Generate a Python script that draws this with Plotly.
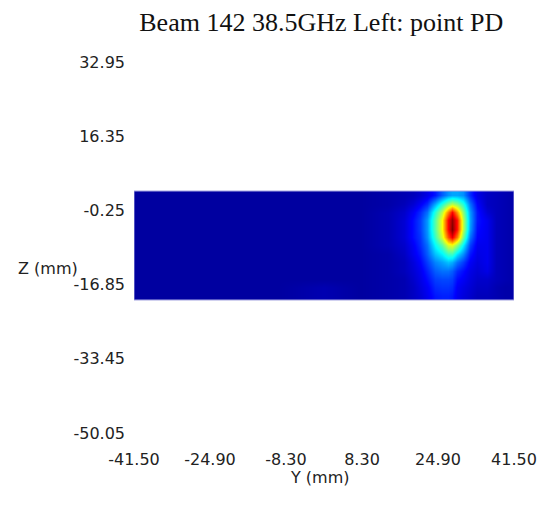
import plotly.graph_objects as go

# ---- data ----
y_cols = [-41.5, -30, -20, -10, 0, 8, 14, 17.5, 19.5, 21, 22.5, 24.2, 25.8, 27.0,
          28.0, 29.0, 30.3, 31.9, 33.4, 35.6, 37.5, 39.5, 41.5]
z_rows = [3.15, 1.28, -0.60, -2.48, -4.35, -6.23, -8.10, -9.98, -11.85, -13.73,
          -15.60, -17.48, -19.35]
power = [
    [0, 0, 0, 0, 0, 0, 0.01, 0.02, 0.03, 0.05, 0.08, 0.13, 0.20, 0.25, 0.27, 0.27, 0.25, 0.15, 0.08, 0.04, 0.03, 0.02, 0.01],
    [0, 0, 0, 0, 0, 0, 0.01, 0.03, 0.06, 0.10, 0.15, 0.28, 0.40, 0.50, 0.55, 0.50, 0.40, 0.22, 0.11, 0.04, 0.03, 0.02, 0.01],
    [0, 0, 0, 0, 0, 0, 0.02, 0.05, 0.10, 0.15, 0.22, 0.40, 0.55, 0.75, 0.88, 0.72, 0.50, 0.26, 0.13, 0.06, 0.03, 0.02, 0.01],
    [0, 0, 0, 0, 0, 0, 0.02, 0.06, 0.12, 0.17, 0.26, 0.45, 0.62, 0.88, 0.98, 0.86, 0.55, 0.27, 0.13, 0.09, 0.03, 0.02, 0.01],
    [0, 0, 0, 0, 0, 0, 0.02, 0.06, 0.12, 0.17, 0.26, 0.45, 0.62, 0.88, 1.00, 0.86, 0.55, 0.26, 0.12, 0.09, 0.03, 0.02, 0.01],
    [0, 0, 0, 0, 0, 0, 0.02, 0.06, 0.12, 0.16, 0.25, 0.42, 0.58, 0.80, 0.90, 0.75, 0.48, 0.22, 0.11, 0.09, 0.03, 0.02, 0.01],
    [0, 0, 0, 0, 0, 0, 0.02, 0.05, 0.10, 0.15, 0.22, 0.36, 0.45, 0.58, 0.60, 0.50, 0.35, 0.17, 0.09, 0.09, 0.03, 0.02, 0.01],
    [0, 0, 0, 0, 0, 0, 0.01, 0.04, 0.09, 0.13, 0.20, 0.30, 0.35, 0.42, 0.42, 0.33, 0.25, 0.13, 0.08, 0.09, 0.03, 0.02, 0.01],
    [0, 0, 0, 0, 0, 0, 0.01, 0.03, 0.07, 0.11, 0.17, 0.24, 0.27, 0.30, 0.28, 0.22, 0.17, 0.10, 0.07, 0.09, 0.03, 0.02, 0.01],
    [0, 0, 0, 0, 0, 0, 0.01, 0.03, 0.06, 0.09, 0.14, 0.20, 0.22, 0.22, 0.20, 0.15, 0.12, 0.08, 0.06, 0.08, 0.03, 0.02, 0.01],
    [0, 0, 0, 0, 0, 0, 0.01, 0.02, 0.05, 0.08, 0.12, 0.17, 0.18, 0.18, 0.17, 0.12, 0.10, 0.07, 0.05, 0.05, 0.03, 0.02, 0.01],
    [0, 0, 0, 0, 0.02, 0, 0.01, 0.02, 0.04, 0.07, 0.10, 0.15, 0.16, 0.16, 0.15, 0.10, 0.08, 0.06, 0.04, 0.04, 0.02, 0.01, 0.01],
    [0, 0, 0, 0, 0.02, 0, 0.01, 0.02, 0.04, 0.06, 0.09, 0.13, 0.14, 0.14, 0.13, 0.09, 0.07, 0.05, 0.03, 0.03, 0.02, 0.01, 0.01],
]
x_ticks = [-41.50, -24.90, -8.30, 8.30, 24.90, 41.50]
z_ticks = [32.95, 16.35, -0.25, -16.85, -33.45, -50.05]

jet = [
    [0.0, "rgb(0,0,160)"],
    [0.11, "rgb(0,0,255)"],
    [0.36, "rgb(0,255,255)"],
    [0.62, "rgb(255,255,0)"],
    [0.88, "rgb(255,0,0)"],
    [1.0, "rgb(128,0,0)"],
]

fig = go.Figure(go.Heatmap(
    x=y_cols, y=z_rows, z=power, colorscale=jet, zmin=0, zmax=1,
    zsmooth="best", showscale=False,
))

half = (z_rows[0] - z_rows[1]) / 2
fig.add_shape(type="rect", xref="x", yref="y",
              x0=y_cols[0], x1=y_cols[-1],
              y0=z_rows[-1] - half, y1=z_rows[0] + half,
              line=dict(color="rgba(160,160,225,1)", width=1))

tick_font = dict(family="DejaVu Sans", size=16, color="#222")
fig.update_layout(
    width=551, height=512,
    margin=dict(l=134, r=37, t=50, b=67),
    paper_bgcolor="white", plot_bgcolor="white",
    showlegend=False,
    title=dict(text="Beam 142 38.5GHz Left: point PD", x=0.583, xref="container",
               y=1 - 22 / 512, yref="container", xanchor="center", yanchor="middle",
               font=dict(family="Liberation Serif", size=26, color="#111")),
    xaxis=dict(range=[-41.5, 41.5], tickvals=x_ticks,
               ticktext=[f"{v:.2f}" for v in x_ticks],
               showgrid=False, zeroline=False, showline=False, ticks="",
               tickfont=tick_font, ticklabelstandoff=3),
    yaxis=dict(range=[-52.73, 35.63], tickvals=z_ticks,
               ticktext=[f"{v:.2f}" for v in z_ticks],
               showgrid=False, zeroline=False, showline=False, ticks="",
               tickfont=tick_font, ticklabelstandoff=8),
    annotations=[
        dict(text="Z (mm)", xref="paper", yref="paper", x=-0.226, y=0.448,
             xanchor="center", yanchor="middle", showarrow=False, font=tick_font),
        dict(text="Y (mm)", xref="paper", yref="paper", x=0.489, y=-0.0835,
             xanchor="center", yanchor="middle", showarrow=False, font=tick_font),
    ],
)

fig.write_html("out.html")
